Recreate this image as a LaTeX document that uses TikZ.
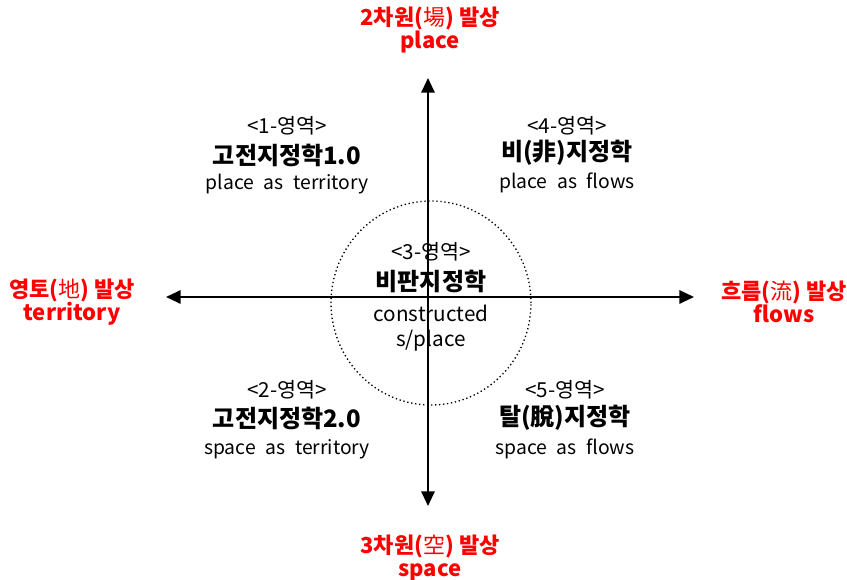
\documentclass[tikz,border=0pt]{standalone}
\usepackage{fontspec}
\setmainfont{Noto Sans CJK KR}
\usetikzlibrary{arrows.meta,shapes.geometric}
\definecolor{axisRed}{RGB}{255,0,0}
\newcommand\wordgap{\spaceskip 0.5em\relax}
\tikzset{
    every node/.append style={align=center,inner sep=1pt},
    axis/.style={-{Triangle[length=11pt,width=10pt]},line width=1.5pt},
    redlbl/.style={text=axisRed,inner sep=0pt,font=\bfseries\fontsize{16.5}{17.3}\selectfont},
    area/.style={font=\fontsize{15.5}{17}\selectfont},
    title/.style={font=\bfseries\fontsize{18}{20}\selectfont},
    desc/.style={font=\fontsize{14.5}{17}\selectfont\wordgap}
}
\begin{document}
\begin{tikzpicture}[x=0.75pt,y=-0.75pt]
    \useasboundingbox (0,0) rectangle (847,580);
    % centre and axis ends
    \coordinate (o)  at (428,297);
    \coordinate (up) at (428,78);
    \coordinate (dn) at (428,506);
    \coordinate (lt) at (166,297);
    \coordinate (rt) at (694,297);
    % dotted circle behind the text
    \node[draw,dotted,line width=1pt,ellipse,minimum width=150pt,minimum height=153pt,inner sep=0pt] (ring) at (431,303) {};
    \draw[axis] (o) -- (up);
    \draw[axis] (o) -- (dn);
    \draw[axis] (o) -- (lt);
    \draw[axis] (o) -- (rt);

    % red labels at the axis ends
    \node[redlbl] (top) at (430,30)  {2차원({\mdseries 場}) 발상\\place};
    \node[redlbl] (lft) at (72,302)  {영토({\mdseries 地}) 발상\\territory};
    \node[redlbl] (rgt) at (784,302) {흐름({\mdseries 流}) 발상\\flows};
    \node[redlbl] (bot) at (430,558) {3차원({\mdseries 空}) 발상\\space};

    % area 1
    \node[area]  (a1)  at (287,126) {<1-영역>};
    \node[title] (t1)  at (287,155) {고전지정학1.0};
    \node[desc]  (d1)  at (287,184) {place as territory};
    % area 4
    \node[area]  (a4)  at (567,126) {<4-영역>};
    \node[title] (t4)  at (567,153) {비(非)지정학};
    \node[desc]  (d4)  at (567,183) {place as flows};
    % area 3
    \node[area]  (a3)  at (431,252) {<3-영역>};
    \node[title] (t3)  at (431,281) {비판지정학};
    \node[area]  (d3)  at (431,313) {constructed};
    \node[area]  (d3b) at (431,341) {s/place};
    % area 2
    \node[area]  (a2)  at (287,390) {<2-영역>};
    \node[title] (t2)  at (287,418) {고전지정학2.0};
    \node[desc]  (d2)  at (287,449) {space as territory};
    % area 5
    \node[area]  (a5)  at (565,390) {<5-영역>};
    \node[title] (t5)  at (565,418) {탈(脫)지정학};
    \node[desc]  (d5)  at (565,449) {space as flows};
\end{tikzpicture}
\end{document}
